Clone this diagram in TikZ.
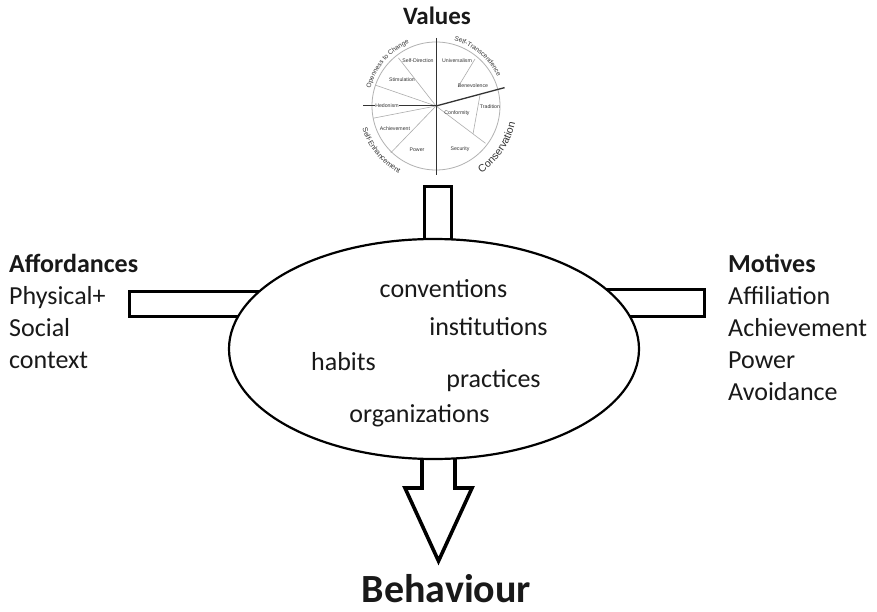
\documentclass[tikz,border=0pt]{standalone}
\usepackage{fontspec}
\setmainfont{Carlito}
\newfontfamily\wheelfont{Liberation Sans}
\usetikzlibrary{decorations.text,shapes.geometric,calc}

\tikzset{
  bar/.style={draw=black, line width=3pt, fill=white, line join=miter},
  word/.style={inner sep=0pt, anchor=base, font=\fontsize{26}{32}\selectfont, text=black!90},
  listline/.style={inner sep=0pt, anchor=base west, font=\fontsize{26}{32}\selectfont, text=black!90},
  heading/.style={listline, font=\fontsize{26}{32}\selectfont\bfseries},
  wlabel/.style={inner sep=0.4pt, font=\wheelfont\fontsize{5.2}{6}\selectfont, text=black!80},
  wedge/.style={draw=black!32, line width=0.6pt},
  axis/.style={draw=black!80, line width=1pt},
  arclabel/.style={decorate, decoration={text along path, text align=center, text={#1}}},
}
\newcommand{\arcfont}{\wheelfont\fontsize{6.5}{7}\selectfont\color{black!80}}
\newcommand{\arcfontmid}{\wheelfont\fontsize{7.2}{8}\selectfont\color{black!80}}
\newcommand{\arcfontbig}{\wheelfont\fontsize{10.5}{11}\selectfont\color{black!80}}

\begin{document}
\begin{tikzpicture}[x=1pt,y=1pt]
\useasboundingbox (0,0) rectangle (877,-612);
\fill[white] (0,0) rectangle (877,-612);

% ---- value wheel ----
\coordinate (wc) at (436,-106);
\draw[draw=black!30, line width=0.8pt] (wc) circle[radius=64];
\draw[wedge] (wc) -- ($(wc)+(128:61)$);
\draw[wedge] (wc) -- ($(wc)+(161:64)$);
\draw[wedge] (wc) -- ($(wc)+(191:64)$);
\draw[wedge] (wc) -- ($(wc)+(226:65)$);
\draw[wedge] (wc) -- ($(wc)+(323:62)$);
\draw[wedge] (475,-59) -- (458,-87);
\draw[wedge] (480,-95) -- (473,-134);
\draw[axis] (436,-38) -- (436,-175);
\draw[axis] (363,-106) -- (wc);
\draw[axis, line width=1.3pt] (wc) -- ($(wc)+(15:71)$);

\node[wlabel] (selfdir) at (418,-61) {Self-Direction};
\node[wlabel] (univ)    at (457,-61) {Universalism};
\node[wlabel] (stim)    at (402,-80) {Stimulation};
\node[wlabel] (benev)   at (473,-86) {Benevolence};
\node[wlabel, fill=white] (hedon) at (387,-106) {Hedonism};
\node[wlabel] (trad)    at (490,-107) {Tradition};
\node[wlabel] (conf)    at (457,-113) {Conformity};
\node[wlabel] (achv)    at (395,-129) {Achievement};
\node[wlabel] (power)   at (417,-150) {Power};
\node[wlabel] (secur)   at (460,-149) {Security};

\path[arclabel={|\arcfont|Openness to Change}]
  ($(wc)+(166:68)$) arc[start angle=166, end angle=112, radius=68];
\path[arclabel={|\arcfont|Self-Transcendence}]
  ($(wc)+(78:68)$) arc[start angle=78, end angle=22, radius=68];
\path[arclabel={|\arcfontmid|Self-Enhancement}]
  ($(wc)+(190:77)$) arc[start angle=190, end angle=248, radius=77];
\path[arclabel={|\arcfontbig|Conservation}]
  ($(wc)+(-62:81)$) arc[start angle=-62, end angle=-6, radius=81];

\node[inner sep=0pt, anchor=base, font=\fontsize{25}{30}\selectfont\bfseries, text=black!90] (values) at (437,-25) {Values};

% ---- bars entering the central ellipse ----
\draw[bar] (424.5,-186.5) rectangle (451.5,-262);
\draw[bar] (129,-291) rectangle (300,-316);
\draw[bar] (570,-289.5) rectangle (704,-316);
\draw[bar, line width=3.6pt] (422,-440) -- (422,-488) -- (405,-488) -- (438.5,-561)
  -- (472,-488) -- (455,-488) -- (455,-440) -- cycle;

\node[ellipse, draw=black, line width=2.2pt, fill=white, inner sep=0pt,
      minimum width=410, minimum height=220] (core) at (434,-349) {};

\node[word] (conv)  at (443.5,-297) {conventions};
\node[word] (inst)  at (488.5,-335) {institutions};
\node[word] (habit) at (343.5,-370) {habits};
\node[word] (prac)  at (493.5,-387) {practices};
\node[word] (org)   at (419.5,-422) {organizations};

% ---- side lists ----
\node[heading]  (aff)  at (9,-272) {Affordances};
\node[listline] (aff1) at (9,-304) {Physical+};
\node[listline] (aff2) at (9,-336) {Social};
\node[listline] (aff3) at (9,-368) {context};

\node[heading]  (mot)  at (728,-272) {Motives};
\node[listline] (mot1) at (728,-304) {Affiliation};
\node[listline] (mot2) at (728,-336) {Achievement};
\node[listline] (mot3) at (728,-368) {Power};
\node[listline] (mot4) at (728,-400) {Avoidance};

\node[inner sep=0pt, anchor=base, font=\fontsize{40}{44}\selectfont\bfseries, text=black!90] (behav) at (446.5,-602) {Behaviour};
\end{tikzpicture}
\end{document}
